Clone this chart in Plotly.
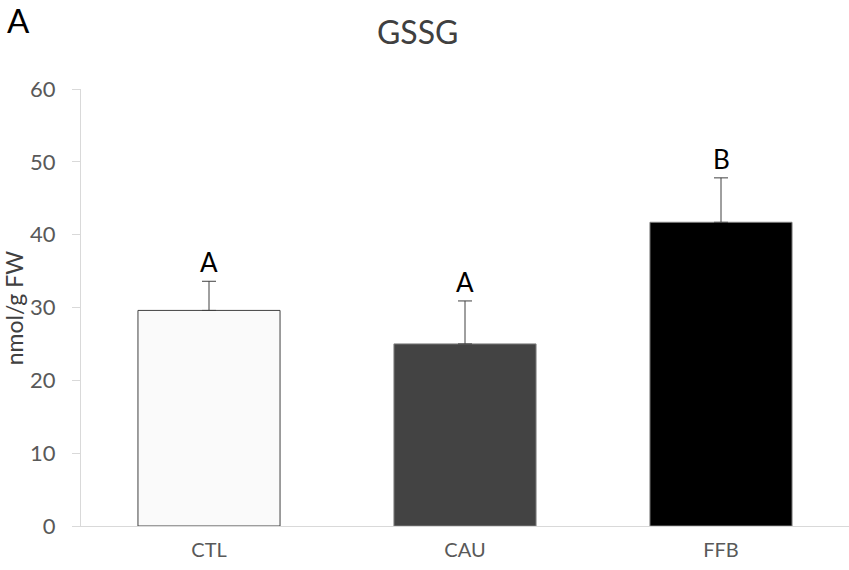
import plotly.graph_objects as go

# GSSG content per treatment (nmol/g FW), mean and upper SD
categories = ["CTL", "CAU", "FFB"]
means = [29.6, 25.0, 41.7]
errors = [4.0, 5.9, 6.1]
letters = ["A", "A", "B"]
fills = ["#fafafa", "#434343", "#000000"]
outlines = ["#404040", "#7f7f7f", "#7f7f7f"]

FONT = "Lato, Open Sans, sans-serif"

fig = go.Figure(
    go.Bar(
        x=categories,
        y=means,
        width=0.555,
        marker=dict(color=fills, line=dict(color=outlines, width=1)),
        error_y=dict(
            type="data", array=errors, symmetric=False, arrayminus=[0, 0, 0],
            color="#404040", thickness=1, width=7,
        ),
        showlegend=False,
        hoverinfo="skip",
    )
)

# significance letters above each error bar
for c, m, e, t in zip(categories, means, errors, letters):
    fig.add_annotation(
        x=c, y=m + e, text=t, showarrow=False, yanchor="bottom", yshift=1,
        font=dict(family=FONT, size=26, color="#000000"),
    )

# panel label
fig.add_annotation(
    x=-0.081, y=1.158, xref="paper", yref="paper", text="A", showarrow=False,
    xanchor="center", yanchor="middle",
    font=dict(family=FONT, size=33, color="#000000"),
)

# y-axis title, set close to the left edge
fig.add_annotation(
    x=-0.0875, y=0.5, xref="paper", yref="paper", text="nmol/g FW",
    showarrow=False, textangle=-90, xanchor="center", yanchor="middle",
    borderpad=0, font=dict(family=FONT, size=23, color="#404040"),
)

fig.update_layout(
    width=849,
    height=570,
    margin=dict(l=81, r=0, t=89, b=44),
    paper_bgcolor="white",
    plot_bgcolor="white",
    font=dict(family=FONT, color="#595959"),
    title=dict(
        text="GSSG", x=0.492, xanchor="center", y=0.942, yanchor="middle",
        font=dict(family=FONT, size=32, color="#404040"),
    ),
    xaxis=dict(
        showline=True, linecolor="#d9d9d9", linewidth=1, ticks="",
        tickfont=dict(family=FONT, size=20, color="#595959"),
        showgrid=False, zeroline=False, ticklabelstandoff=6,
    ),
    yaxis=dict(
        range=[0, 60], dtick=10, showline=True, linecolor="#d9d9d9", linewidth=1,
        ticks="outside", ticklen=8, tickcolor="#d9d9d9", showgrid=False,
        zeroline=False, ticklabelstandoff=12,
        tickfont=dict(family=FONT, size=22, color="#595959"),
    ),
)

fig.write_html("out.html")
